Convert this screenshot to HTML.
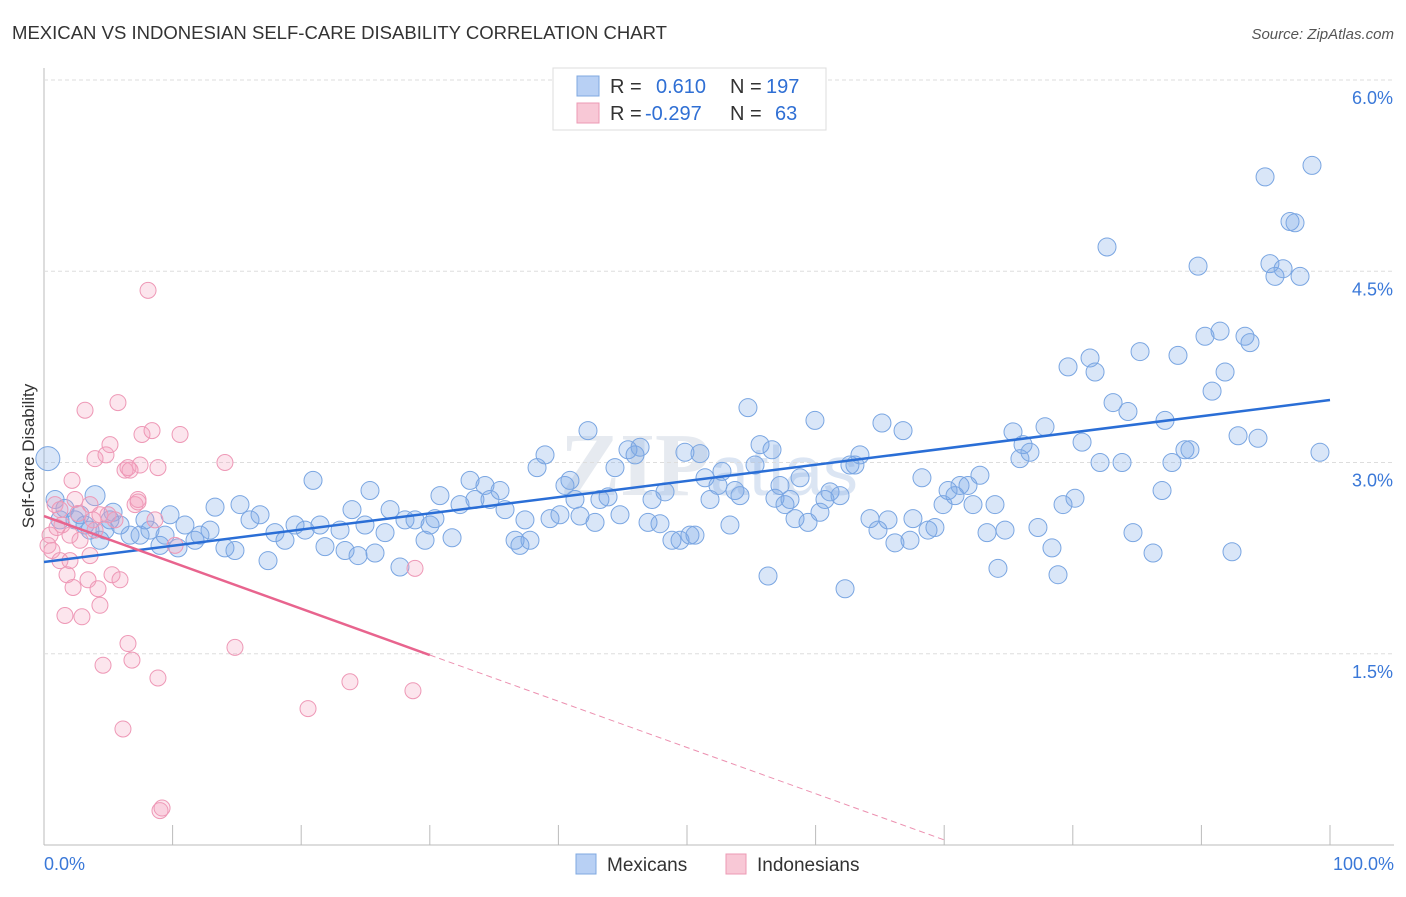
<!DOCTYPE html>
<html><head><meta charset="utf-8"><style>
body{margin:0;background:#fff;font-family:"Liberation Sans",sans-serif}
#c{position:relative;width:1406px;height:892px}
</style></head><body>
<div id="c">
<svg id="s" width="1406" height="892">
<text x="12" y="39" font-size="18" fill="#333" textLength="655" lengthAdjust="spacingAndGlyphs">MEXICAN VS INDONESIAN SELF-CARE DISABILITY CORRELATION CHART</text>
<text x="1394" y="39" font-size="15" fill="#555" text-anchor="end" font-style="italic">Source: ZipAtlas.com</text>
<text x="34" y="456" font-size="17" fill="#333" text-anchor="middle" transform="rotate(-90 34 456)">Self-Care Disability</text>
<text x="560" y="495" font-size="90" fill="#e6eaf0" font-weight="bold" font-family="Liberation Serif">ZIP<tspan font-size="70" fill="#dbe5f3" font-weight="normal" font-family="Liberation Sans">atlas</tspan></text>
<g id="grid"></g><g id="pts"></g><g id="lines"></g>
<g>
<rect x="553" y="68" width="273" height="62" fill="#fff" stroke="#ddd"/>
<rect x="577" y="76" width="22" height="20" fill="#b8d0f4" stroke="#7fa8e0"/>
<rect x="577" y="103" width="22" height="20" fill="#f8c8d6" stroke="#ec9ab4"/>
<text x="610" y="93" font-size="20" fill="#333">R = <tspan fill="#2f6fd4" x="656">0.610</tspan><tspan x="730" fill="#333">N =</tspan><tspan x="766" fill="#2f6fd4">197</tspan></text>
<text x="610" y="120" font-size="20" fill="#333">R = <tspan fill="#2f6fd4" x="645">-0.297</tspan><tspan x="730" fill="#333">N =</tspan><tspan x="775" fill="#2f6fd4">63</tspan></text>
</g>
<g>
<rect x="576" y="854" width="20" height="20" fill="#b8d0f4" stroke="#7fa8e0"/>
<text x="607" y="871" font-size="19" fill="#333">Mexicans</text>
<rect x="726" y="854" width="20" height="20" fill="#f8c8d6" stroke="#ec9ab4"/>
<text x="757" y="871" font-size="19" fill="#333">Indonesians</text>
</g>
</svg></div>
<script>
const yTicks=[1.5,3.0,4.5,6.0];
const yTickLabels=["1.5%","3.0%","4.5%","6.0%"];
const xTicks=[0,10,20,30,40,50,60,70,80,90,100];
const mexX=[0.3,0.86,3.97,1.24,2.41,3.19,4.35,5.13,5.91,6.69,7.47,8.24,9.02,9.80,10.96,11.74,12.91,13.30,14.07,14.85,15.24,16.02,16.80,17.42,17.96,18.74,19.52,20.30,20.92,21.46,21.85,23.02,23.41,23.95,24.42,24.96,25.35,25.74,26.52,26.91,27.68,28.07,28.85,29.63,30.02,30.40,30.79,31.73,32.35,33.13,33.51,34.29,34.68,35.46,35.85,36.63,37.01,37.40,37.79,38.34,38.96,39.35,40.12,40.51,40.90,41.29,41.68,42.30,42.85,43.23,43.86,44.40,44.79,45.41,45.96,46.35,46.97,47.28,47.90,48.29,48.83,49.46,49.84,50.23,50.62,51.01,51.40,51.79,52.41,52.72,53.34,53.73,54.12,54.74,55.29,55.68,56.30,56.61,56.84,57.23,57.62,58.01,58.40,58.79,59.41,59.95,60.34,60.73,61.12,61.90,62.29,62.67,63.06,63.45,64.23,64.85,65.16,65.63,66.17,66.80,67.34,67.57,68.27,68.74,69.28,69.91,70.30,70.84,71.23,71.85,72.24,72.78,73.33,73.95,74.18,74.73,75.35,75.89,76.13,76.67,77.29,77.84,78.38,78.85,79.24,79.63,80.17,80.72,81.34,81.73,82.12,82.66,83.13,83.83,84.29,84.68,85.23,86.24,86.94,87.17,87.71,88.18,88.72,89.11,89.74,90.28,90.83,91.45,91.84,92.38,92.85,93.39,93.78,94.40,94.95,95.33,95.72,96.35,96.89,97.28,97.67,98.60,99.22,1.63,2.80,3.58,4.74,5.37,7.85,9.41,10.42,12.13];
const mexY=[3.03,2.71,2.74,2.55,2.55,2.51,2.39,2.55,2.51,2.43,2.43,2.47,2.35,2.59,2.51,2.39,2.47,2.65,2.33,2.31,2.67,2.55,2.59,2.23,2.45,2.39,2.51,2.47,2.86,2.51,2.34,2.47,2.31,2.63,2.27,2.51,2.78,2.29,2.45,2.63,2.18,2.55,2.55,2.39,2.51,2.56,2.74,2.41,2.67,2.86,2.71,2.82,2.71,2.78,2.63,2.39,2.35,2.55,2.39,2.96,3.06,2.56,2.59,2.82,2.86,2.71,2.58,3.25,2.53,2.71,2.73,2.96,2.59,3.10,3.06,3.12,2.53,2.71,2.52,2.77,2.39,2.39,3.08,2.43,2.43,3.07,2.88,2.71,2.82,2.93,2.51,2.78,2.74,3.43,2.98,3.14,2.11,3.10,2.72,2.82,2.67,2.71,2.56,2.88,2.53,3.33,2.61,2.71,2.77,2.74,2.01,2.98,2.98,3.06,2.56,2.47,3.31,2.55,2.37,3.25,2.39,2.56,2.88,2.47,2.49,2.67,2.78,2.74,2.82,2.82,2.67,2.90,2.45,2.67,2.17,2.47,3.24,3.03,3.14,3.08,2.49,3.28,2.33,2.12,2.67,3.75,2.72,3.16,3.82,3.71,3.00,4.69,3.47,3.00,3.40,2.45,3.87,2.29,2.78,3.33,3.00,3.84,3.10,3.10,4.54,3.99,3.56,4.03,3.71,2.30,3.21,3.99,3.94,3.19,5.24,4.56,4.46,4.52,4.89,4.88,4.46,5.33,3.08,2.64,2.59,2.47,2.47,2.61,2.55,2.43,2.33,2.43];
const indX=[0.31,0.62,0.86,1.24,1.40,1.63,2.02,2.18,2.41,2.80,2.95,3.19,3.42,3.58,3.81,3.97,4.20,4.35,4.59,4.82,5.13,5.29,5.52,5.75,5.91,6.30,6.53,6.53,6.84,7.08,7.31,7.47,7.62,8.09,8.40,8.63,8.86,8.86,9.02,9.18,10.19,10.58,14.07,14.85,20.53,23.79,28.69,28.85,6.14,1.24,2.02,3.58,0.47,1.01,1.79,2.26,2.64,3.97,4.98,6.69,7.31,4.35];
const indY=[2.35,2.31,2.67,2.23,2.51,1.80,2.23,2.86,2.71,2.39,1.79,3.41,2.08,2.27,2.55,3.03,2.01,1.88,1.41,3.06,3.14,2.12,2.55,3.47,2.08,2.94,2.96,1.58,1.45,2.67,2.71,2.98,3.22,4.35,3.25,2.55,2.96,1.31,0.27,0.29,2.35,3.22,3.00,1.55,1.07,1.28,1.21,2.17,0.91,2.63,2.43,2.67,2.43,2.49,2.12,2.02,2.60,2.47,2.59,2.94,2.69,2.59];
const mexLine=[[0,2.22],[100,3.49]];
const indLineSolid=[[0,2.58],[30,1.49]];
const indLineDash=[[30,1.49],[70,0.04]];
const X=v=>44+v*12.86, Y=v=>845-v*127.5;
const NS="http://www.w3.org/2000/svg";
function mk(p,t,a){const e=document.createElementNS(NS,t);for(const k in a)e.setAttribute(k,a[k]);p.appendChild(e);return e;}
const g=document.getElementById('grid');
let ax=mk(g,'line',{x1:44,y1:68,x2:44,y2:845,stroke:'#bbb'});


let bx=mk(g,'line',{x1:44,y1:845,x2:1394,y2:845,stroke:'#bbb'});


yTicks.forEach((t,i)=>{
 const l=mk(g,'line',{x1:44,x2:1394,y1:Y(t),y2:Y(t),stroke:'#ddd','stroke-dasharray':'4,3'});
 
 
 const tx=mk(g,'text',{x:1393,y:Y(t)+24,'font-size':18,fill:'#3a78d8','text-anchor':'end'});
 tx.textContent=yTickLabels[i];
 
 
});
xTicks.forEach(t=>{
 const l=mk(g,'line',{x1:X(t),x2:X(t),y1:825,y2:845,stroke:'#bbb'});
 
 
});
let x0=mk(g,'text',{x:44,y:870,'font-size':18,fill:'#3a78d8'});x0.textContent='0.0%';


let x1=mk(g,'text',{x:1394,y:870,'font-size':18,fill:'#3a78d8','text-anchor':'end'});x1.textContent='100.0%';


const P=document.getElementById('pts');
mexX.forEach((x,i)=>{
 const c=mk(P,'circle',{cx:X(x),cy:Y(mexY[i]),r:i==0?12:(i==2?10:9),fill:'rgba(120,165,230,0.28)',stroke:'#7aa6e2','stroke-width':1});
 
 
});
indX.forEach((x,i)=>{
 const c=mk(P,'circle',{cx:X(x),cy:Y(indY[i]),r:8,fill:'rgba(245,160,190,0.28)',stroke:'#ee98b6','stroke-width':1});
 
 
});
const L=document.getElementById('lines');
let a=mk(L,'line',{x1:X(mexLine[0][0]),y1:Y(mexLine[0][1]),x2:X(mexLine[1][0]),y2:Y(mexLine[1][1]),stroke:'#2a6ed6','stroke-width':2.5});


let b=mk(L,'line',{x1:X(indLineSolid[0][0]),y1:Y(indLineSolid[0][1]),x2:X(indLineSolid[1][0]),y2:Y(indLineSolid[1][1]),stroke:'#e8648e','stroke-width':2.5});


let d=mk(L,'line',{x1:X(indLineDash[0][0]),y1:Y(indLineDash[0][1]),x2:X(indLineDash[1][0]),y2:Y(indLineDash[1][1]),stroke:'#ec90b0','stroke-width':1,'stroke-dasharray':'6,4'});


</script>
</body></html>
